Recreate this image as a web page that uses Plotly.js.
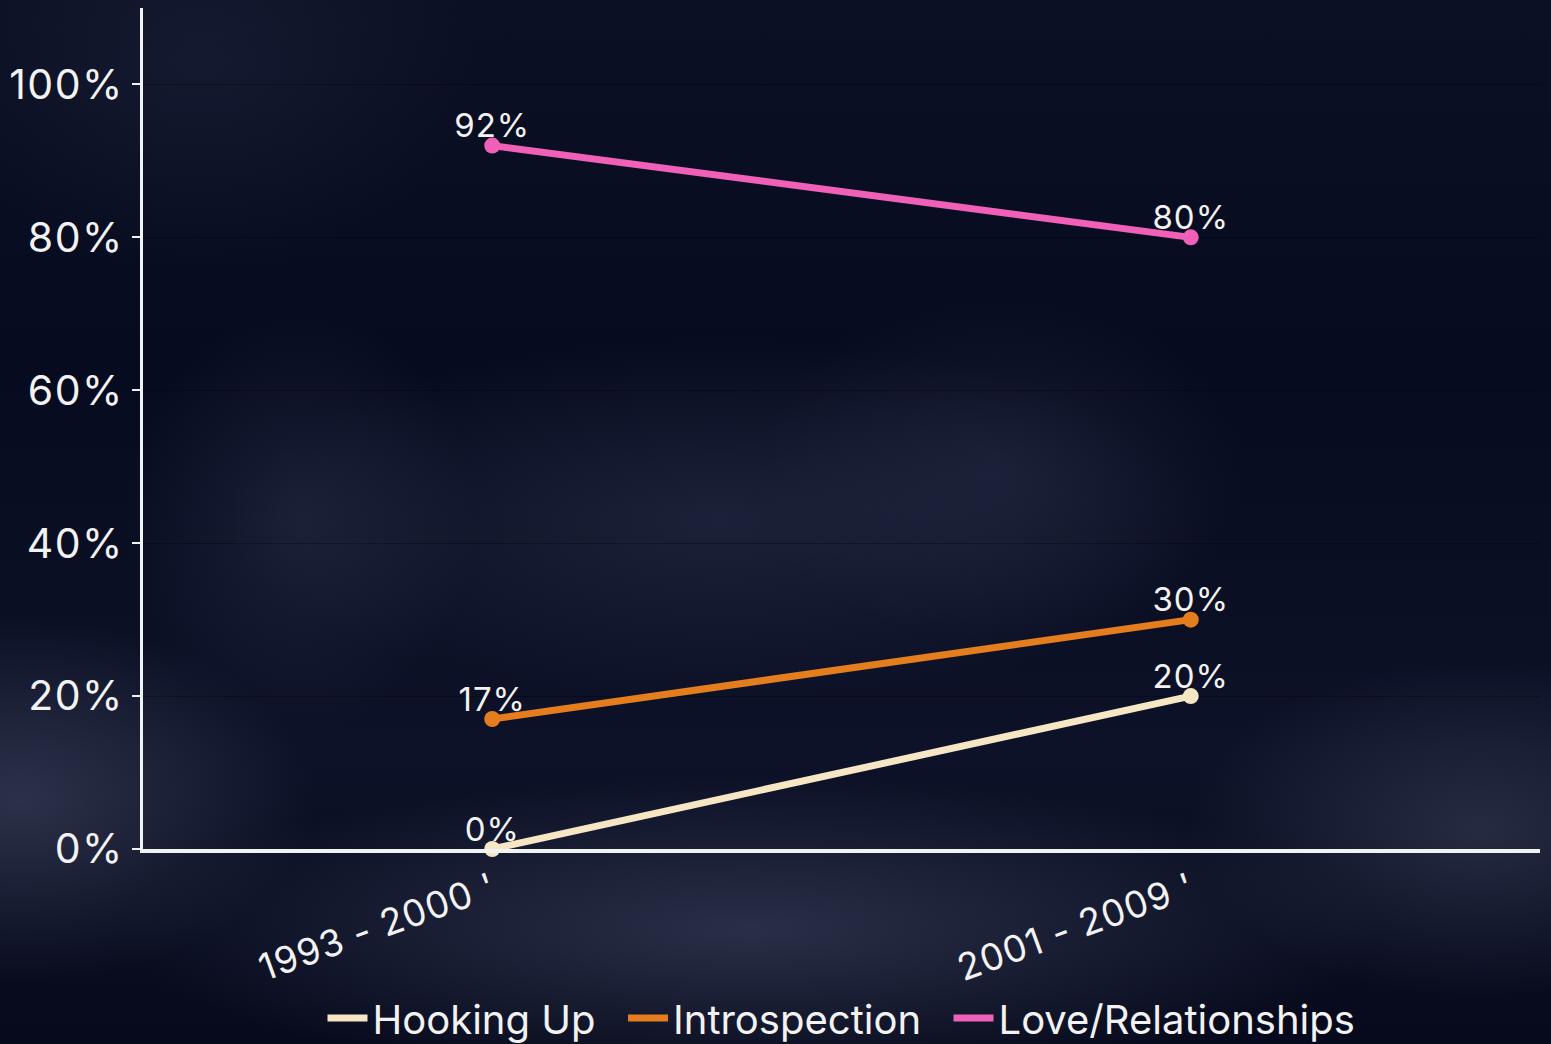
<!DOCTYPE html>
<html>
<head>
<meta charset="utf-8">
<script src="https://cdn.plot.ly/plotly-3.0.1.min.js"></script>
<style>
  html, body { margin: 0; padding: 0; width: 1551px; height: 1044px; overflow: hidden; }
  body {
    background:
      radial-gradient(ellipse 900px 220px at 750px 930px, rgba(80,88,118,0.45), rgba(80,88,118,0) 70%),
      radial-gradient(ellipse 420px 260px at 20px 800px, rgba(70,76,102,0.55), rgba(70,76,102,0) 70%),
      radial-gradient(ellipse 420px 240px at 1480px 830px, rgba(70,76,102,0.45), rgba(70,76,102,0) 70%),
      radial-gradient(ellipse 700px 260px at 720px 520px, rgba(55,62,90,0.40), rgba(55,62,90,0) 70%),
      radial-gradient(ellipse 250px 300px at 300px 520px, rgba(55,62,90,0.35), rgba(55,62,90,0) 70%),
      radial-gradient(ellipse 350px 250px at 1000px 470px, rgba(55,62,90,0.30), rgba(55,62,90,0) 70%),
      radial-gradient(ellipse 400px 300px at 200px 60px, rgba(30,36,60,0.5), rgba(30,36,60,0) 70%),
      linear-gradient(180deg, #0b1024 0%, #070b1f 35%, #0d1228 72%, #070a1c 100%);
  }
  #chart { width: 1551px; height: 1044px; }
  .ytick text { letter-spacing: 1.5px; }
  .xtick text { letter-spacing: 1px; }
  .textpoint text { letter-spacing: 1px; }
  .legend .scatterpts { display: none; }
</style>
</head>
<body>
<div id="chart"></div>
<script>
const periods = ["1993 - 2000 '", "2001 - 2009 '"];
const seriesNames = ["Hooking Up\u00a0\u00a0", "Introspection\u00a0\u00a0", "Love/Relationships"];
const hookingUp = [0, 20];
const introspection = [17, 30];
const loveRelationships = [92, 80];
const yTickVals = [0, 20, 40, 60, 80, 100];
const yTickText = ["0%", "20%", "40%", "60%", "80%", "100%"];

const labelFont = { family: 'Inter, sans-serif', size: 33, color: '#f2f2f2' };

function lineTrace(name, values, color) {
  return {
    type: 'scatter',
    mode: 'lines+markers',
    name: name,
    x: periods,
    y: values,
    line: { color: color, width: 7 },
    marker: { color: color, size: 16 },
    cliponaxis: false,
    hoverinfo: 'skip'
  };
}
function labelTrace(values) {
  return {
    type: 'scatter',
    mode: 'text',
    x: periods,
    y: values,
    text: values.map(v => v + '%'),
    textposition: 'top center',
    textfont: labelFont,
    showlegend: false,
    cliponaxis: false,
    hoverinfo: 'skip'
  };
}

const data = [
  lineTrace(seriesNames[0], hookingUp, '#f7e6c4'),
  lineTrace(seriesNames[1], introspection, '#e47d1e'),
  lineTrace(seriesNames[2], loveRelationships, '#f060b8'),
  labelTrace(hookingUp),
  labelTrace(introspection),
  labelTrace(loveRelationships)
];

const layout = {
  width: 1551,
  height: 1044,
  margin: { l: 143, r: 11, t: 8, b: 195, autoexpand: false },
  paper_bgcolor: 'rgba(0,0,0,0)',
  plot_bgcolor: 'rgba(0,0,0,0)',
  font: { family: 'Inter, sans-serif', color: '#f2f2f2' },
  showlegend: true,
  legend: {
    orientation: 'h',
    x: 0.5, xanchor: 'center',
    y: 0.025, yanchor: 'middle', yref: 'container',
    font: { family: 'Inter, sans-serif', size: 40, color: '#f2f2f2' },
    bgcolor: 'rgba(0,0,0,0)',
    itemwidth: 40,
    traceorder: 'normal'
  },
  xaxis: {
    type: 'category',
    range: [-0.5, 1.5],
    showgrid: false,
    zeroline: false,
    showline: true,
    linecolor: '#f2f2f2',
    linewidth: 4,
    ticks: '',
    tickangle: -20,
    ticklabelstandoff: 0,
    automargin: false,
    tickfont: { family: 'Inter, sans-serif', size: 37, color: '#f2f2f2' },
    fixedrange: true
  },
  yaxis: {
    range: [0, 110],
    tickvals: yTickVals,
    ticktext: yTickText,
    showgrid: true,
    gridcolor: 'rgba(0,0,0,0.3)',
    gridwidth: 1,
    zeroline: false,
    showline: true,
    linecolor: '#f2f2f2',
    linewidth: 3,
    ticks: 'outside',
    ticklen: 8,
    tickwidth: 2,
    tickcolor: '#f2f2f2',
    automargin: false,
    tickfont: { family: 'Inter, sans-serif', size: 41, color: '#f2f2f2' },
    fixedrange: true
  }
};

Plotly.newPlot('chart', data, layout, { displayModeBar: false, staticPlot: true });
</script>
</body>
</html>
